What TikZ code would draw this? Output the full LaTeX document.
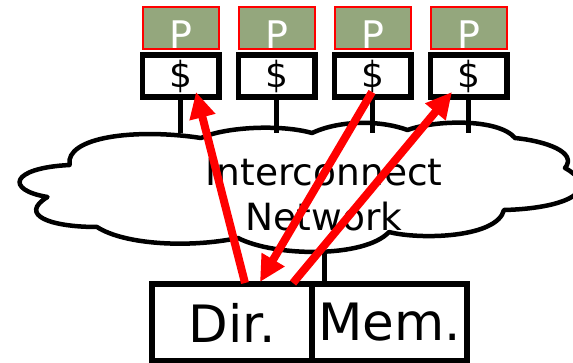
\documentclass[tikz,border=0pt]{standalone}
\usepackage{fontspec}
\setmainfont{DejaVu Sans}
\usetikzlibrary{arrows.meta}
\definecolor{procgreen}{RGB}{148,167,125}
\tikzset{
  procbox/.style={draw=red, fill=procgreen, line width=2pt, minimum width=76pt, minimum height=42pt, inner sep=0pt},
  proctext/.style={text=white, inner sep=0pt, font=\fontsize{38}{38}\selectfont},
  cachebox/.style={draw, fill=white, line width=5.5pt, minimum width=76.5pt, minimum height=42pt, inner sep=0pt, font=\fontsize{36}{36}\selectfont},
  membox/.style={draw, fill=white, line width=5.5pt, minimum height=77pt, inner sep=0pt, font=\fontsize{51.5}{52}\selectfont},
  stem/.style={line width=4.5pt},
  msg/.style={draw=red, line width=8pt, -{Triangle[length=26pt,width=25pt]}},
}
\begin{document}
\begin{tikzpicture}[x=1pt, y=-1pt]
  \useasboundingbox (0,0) rectangle (573,363);

  % Processors and caches
  \foreach \i/\x in {1/180.5, 2/276.5, 3/372.5, 4/468.5} {
    \node[procbox] (proc\i) at (\x,28) {};
    \node[proctext] (plabel\i) at (\x,35) {P};
    \node[cachebox] (cache\i) at (\x,76) {\$};
    \coordinate (drop\i) at (\x,133);
    \draw[stem] (cache\i.south) -- (drop\i);
  }

  % Cloud
  \draw[line width=4.5pt, fill=white, line join=round]
    (201,138) .. controls (225,127) and (280,124) .. (312,133)
    .. controls (340,120) and (380,120) .. (407.5,130)
    .. controls (435,120) and (498,118) .. (515,138)
    .. controls (545,141) and (578,152) .. (565,168)
    .. controls (572,172) and (578,176) .. (580,183)
    .. controls (584,200) and (545,209) .. (504,210)
    .. controls (497,238) and (420,240) .. (389,232)
    .. controls (365,258) and (275,257) .. (238,238)
    .. controls (190,248) and (125,245) .. (97,227)
    .. controls (50,227) and (18,215) .. (47.5,197)
    .. controls (5,190) and (10,168) .. (69.5,165)
    .. controls (65,137) and (135,128) .. (201,138) -- cycle;
  \node[inner sep=0pt, align=center, font=\fontsize{37.5}{45}\selectfont] (net) at (324,195) {Interconnect\\Network};
  \foreach \i in {2,3,4} {
    \draw[stem] (drop\i) ++(0,-10) -- (drop\i);
  }

  % Directory and memory
  \coordinate (drop5) at (324.5,251);
  \draw[stem] (drop5) -- (324.5,284);
  \node[membox, minimum width=160pt] (dir) at (232,322.5) {Dir.};
  \node[membox, minimum width=155pt] (mem) at (389.5,322.5) {Mem.};

  % Messages
  \coordinate (dirA) at (245,283);
  \coordinate (dirB) at (260,282);
  \coordinate (dirC) at (293,283);
  \coordinate (tipA) at (196,92);
  \coordinate (tipB) at (372,92);
  \coordinate (tipC) at (452,92);
  \draw[msg] (dirA) -- (tipA);
  \draw[msg] (tipB) -- (dirB);
  \draw[msg] (dirC) -- (tipC);
\end{tikzpicture}
\end{document}
